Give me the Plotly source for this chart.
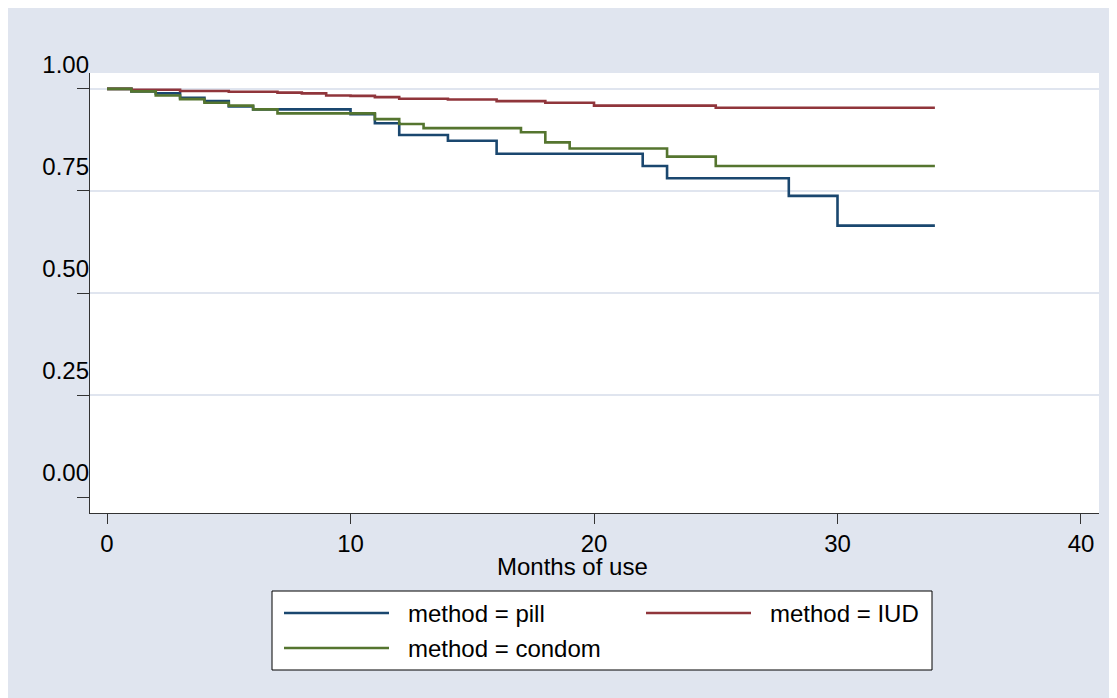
import plotly.graph_objects as go

# ---- data ----
pill_t = [0, 1, 2, 3, 4, 5, 6, 10, 11, 12, 14, 16, 22, 23, 28, 30, 34]
pill_s = [1.0, 0.994, 0.989, 0.978, 0.970, 0.957, 0.950, 0.938, 0.916, 0.887,
          0.873, 0.841, 0.811, 0.781, 0.738, 0.665, 0.665]

iud_t = [0, 1, 3, 5, 7, 8, 9, 10, 11, 12, 14, 16, 18, 20, 25, 34]
iud_s = [1.0, 0.998, 0.995, 0.993, 0.991, 0.989, 0.984, 0.983, 0.980, 0.976,
         0.974, 0.970, 0.966, 0.959, 0.954, 0.954]

condom_t = [0, 1, 2, 3, 4, 5, 6, 7, 11, 12, 13, 17, 18, 19, 23, 25, 34]
condom_s = [1.0, 0.994, 0.984, 0.975, 0.966, 0.959, 0.950, 0.940, 0.926, 0.914,
            0.904, 0.894, 0.869, 0.854, 0.834, 0.811, 0.811]

series_names = ["method = pill", "method = IUD", "method = condom"]
series_colors = ["#1a476f", "#90353b", "#55752f"]

x_ticks = [0, 10, 20, 30, 40]
y_ticks = [0.0, 0.25, 0.5, 0.75, 1.0]
y_ticklabels = ["0.00", "0.25", "0.50", "0.75", "1.00"]
x_title = "Months of use"

# ---- layout geometry (figure pixel coordinates) ----
W, H = 1117, 698
L, R, T, B = 82, 26, 65, 193
PW, PH = W - L - R, H - T - B
BG = "#e0e5ef"
FONT = "Liberation Sans, Arial, Helvetica, sans-serif"
FS = 24


def px_x(x):
    return (x - L) / PW


def px_y(y):
    return (H - B - y) / PH


fig = go.Figure()
for t, s, name, col in zip([pill_t, iud_t, condom_t], [pill_s, iud_s, condom_s],
                           series_names, series_colors):
    fig.add_trace(go.Scatter(x=t, y=s, mode="lines", name=name,
                             line=dict(color=col, width=2.6, shape="hv"),
                             showlegend=False))

fig.update_layout(
    width=W, height=H,
    margin=dict(l=L, r=R, t=T, b=B),
    paper_bgcolor=BG, plot_bgcolor="white",
    font=dict(family=FONT, size=FS, color="black"),
    showlegend=False,
)

fig.update_xaxes(
    range=[-0.70, 40.74], tickvals=x_ticks, ticks="outside", ticklen=10,
    tickcolor="#333", tickwidth=1.2, showline=True, linecolor="#333", linewidth=1.3,
    showgrid=False, zeroline=False, tickfont=dict(size=FS),
    ticklabelstandoff=-1,
)
fig.update_yaxes(
    range=[-0.039, 1.039], tickvals=y_ticks, ticktext=y_ticklabels,
    ticks="outside", ticklen=12, tickcolor="#333", tickwidth=1.2,
    showline=True, linecolor="#333", linewidth=1.3,
    showgrid=True, gridcolor=BG, gridwidth=2,
    zeroline=True, zerolinecolor="white", zerolinewidth=3,
    tickfont=dict(size=FS), ticklabelshift=-24, ticklabelstandoff=-17,
)

# x axis title
fig.add_annotation(text=x_title, xref="paper", yref="paper",
                   x=px_x(564), y=px_y(558), xanchor="center", yanchor="middle",
                   showarrow=False, font=dict(size=FS))

# ---- legend box (drawn like the reference) ----
fig.add_shape(type="rect", xref="paper", yref="paper",
              x0=px_x(264), x1=px_x(924), y0=px_y(662), y1=px_y(583),
              line=dict(color="black", width=1), fillcolor="white", layer="above")
leg_pos = [(276, 605), (638, 605), (276, 640)]
for (lx, ly), name, col in zip(leg_pos, series_names, series_colors):
    fig.add_shape(type="line", xref="paper", yref="paper",
                  x0=px_x(lx), x1=px_x(lx + 105), y0=px_y(ly), y1=px_y(ly),
                  line=dict(color=col, width=2.6))
    fig.add_annotation(text=name, xref="paper", yref="paper",
                       x=px_x(lx + 122), y=px_y(ly), xanchor="left", yanchor="middle",
                       showarrow=False, font=dict(size=FS))

fig.write_html("out.html")
